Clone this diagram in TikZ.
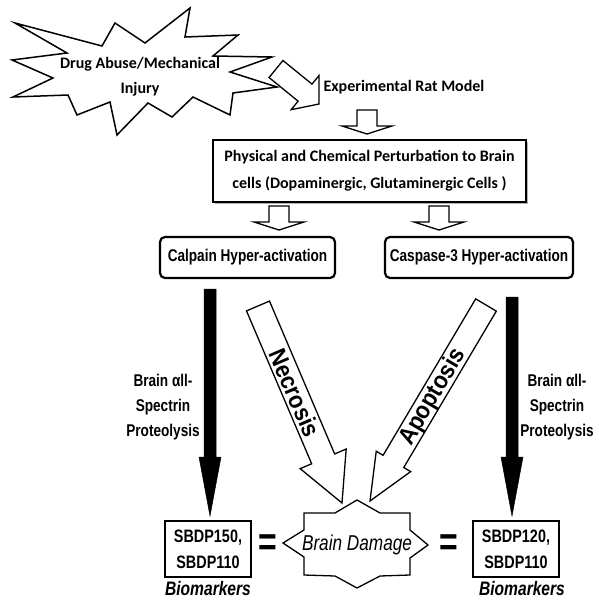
\documentclass[tikz,border=0pt]{standalone}
\usepackage{fontspec}
\setmainfont{Carlito}
\newfontfamily\nar[FakeStretch=0.8]{Liberation Sans}
\newfontfamily\narb[FakeStretch=0.9]{Liberation Sans}
\usetikzlibrary{calc,shadows}
\newcommand\blockarrow[6]{%
  \coordinate (ba-n) at ($(#3)!#6!(#2)$);
  \draw[#1] ($(#2)!#4!90:(#3)$) -- ($(ba-n)!#4!-90:(#2)$) -- ($(ba-n)!#5!-90:(#2)$) -- (#3)
    -- ($(ba-n)!#5!90:(#2)$) -- ($(ba-n)!#4!90:(#2)$) -- ($(#2)!#4!-90:(#3)$) -- cycle;
}
\begin{document}
\begin{tikzpicture}[x=1pt,y=-1pt,line join=miter,
  every node/.style={inner sep=0pt,text=black},
  hollow/.style={draw=black,line width=1.3pt,fill=white},
  solidarrow/.style={draw=black,fill=black,line width=0.5pt},
  rbox/.style={draw=black,line width=2.2pt,rounded corners=5pt,minimum height=41pt,
    font=\nar\bfseries\fontsize{17}{17}\selectfont},
  sbox/.style={draw=black,line width=1.3pt,minimum width=86pt,minimum height=56pt,align=center,
    font=\nar\bfseries\fontsize{18}{26}\selectfont},
  lbl/.style={align=center,font=\nar\bfseries\fontsize{17}{25}\selectfont},
  biom/.style={font=\nar\bfseries\itshape\fontsize{19.5}{19.5}\selectfont},
  eqsign/.style={font=\nar\bfseries\fontsize{40}{40}\selectfont},
  arrtext/.style={font=\narb\bfseries\fontsize{24.5}{24.5}\selectfont}]
\useasboundingbox (0,0) rectangle (599,605);

% starburst
\draw[line width=1.5pt,fill=white] (15,23) -- (102,46) -- (115,23) -- (145,43) -- (190,8) -- (185,37)
  -- (238,35) -- (213,56) -- (272,57) -- (230,72) -- (277,87) -- (233,93) -- (230,115) -- (193,97)
  -- (172,117) -- (148,103) -- (117,135) -- (110,102) -- (77,115) -- (68,95) -- (13,97) -- (53,78)
  -- (12,60) -- (67,53) -- cycle;
\node[align=center,font=\bfseries\fontsize{16}{25}\selectfont] (drug) at (140,77) {Drug Abuse/Mechanical\\Injury};

\coordinate (bentA) at (276,69);
\coordinate (bentB) at (319,104);
\blockarrow{hollow}{bentA}{bentB}{11pt}{22pt}{18pt}

\node[font=\bfseries\fontsize{16}{16}\selectfont] (exp) at (404,87) {Experimental Rat Model};

\coordinate (e1) at (367,110);
\coordinate (e2) at (367,134);
\blockarrow{hollow}{e1}{e2}{10pt}{25pt}{8pt}

\node[draw=black,line width=1.3pt,fill=white,minimum width=313pt,minimum height=62pt,align=center,
  drop shadow={shadow xshift=2pt,shadow yshift=-2pt,fill=gray!60,opacity=1},
  font=\bfseries\fontsize{16}{27}\selectfont] (phys) at (369.5,171)
  {Physical and Chemical Perturbation to Brain\\cells (Dopaminergic, Glutaminergic Cells )};

\coordinate (p1) at (279,206);
\coordinate (p2) at (279,230);
\coordinate (q1) at (439,206);
\coordinate (q2) at (439,230);
\blockarrow{hollow}{p1}{p2}{10pt}{25pt}{8pt}
\blockarrow{hollow}{q1}{q2}{10pt}{25pt}{8pt}

\node[rbox,minimum width=175pt] (calp) at (247.5,257.5) {Calpain Hyper-activation};
\node[rbox,minimum width=188pt] (casp) at (479,257.5) {Caspase-3 Hyper-activation};

% black arrows
\coordinate (k1) at (210,289);
\coordinate (k2) at (210,516);
\coordinate (k3) at (512,297);
\coordinate (k4) at (512,516);
\blockarrow{solidarrow}{k1}{k2}{6pt}{11pt}{59pt}
\blockarrow{solidarrow}{k3}{k4}{6pt}{11pt}{59pt}

\node[lbl] (lblL) at (163,407) {Brain αll-\\Spectrin\\Proteolysis};
\node[lbl] (lblR) at (557,407) {Brain αll-\\Spectrin\\Proteolysis};

% necrosis / apoptosis
\coordinate (n1) at (258,306);
\coordinate (n2) at (342,503);
\blockarrow{hollow}{n1}{n2}{12.5pt}{25pt}{48pt}
\node[arrtext,rotate=-66.9] (necr) at (295,393) {Necrosis};
\coordinate (a1) at (486,305);
\coordinate (a2) at (370,501);
\blockarrow{hollow}{a1}{a2}{12pt}{20pt}{46pt}
\node[arrtext,rotate=59.4] (apop) at (433,397) {Apoptosis};

% brain damage
\draw[line width=1.3pt,fill=white] (357,500) -- (380,513) -- (410,513) -- (410,530) -- (428,545)
  -- (410,558) -- (410,575) -- (380,576) -- (357,588) -- (335,576) -- (304,575) -- (304,557)
  -- (283,543) -- (304,530) -- (304,513) -- (335,513) -- cycle;
\node[font=\nar\itshape\fontsize{21.5}{21.5}\selectfont] (dmg) at (357,545) {Brain Damage};

\node[sbox] (sbL) at (208,549) {SBDP150,\\SBDP110};
\node[sbox] (sbR) at (516,549) {SBDP120,\\SBDP110};
\node[biom] (bioL) at (208,589) {Biomarkers};
\node[biom] (bioR) at (522,589) {Biomarkers};
\node[eqsign] (eqL) at (268,545) {=};
\node[eqsign] (eqR) at (448.5,545) {=};
\end{tikzpicture}
\end{document}
